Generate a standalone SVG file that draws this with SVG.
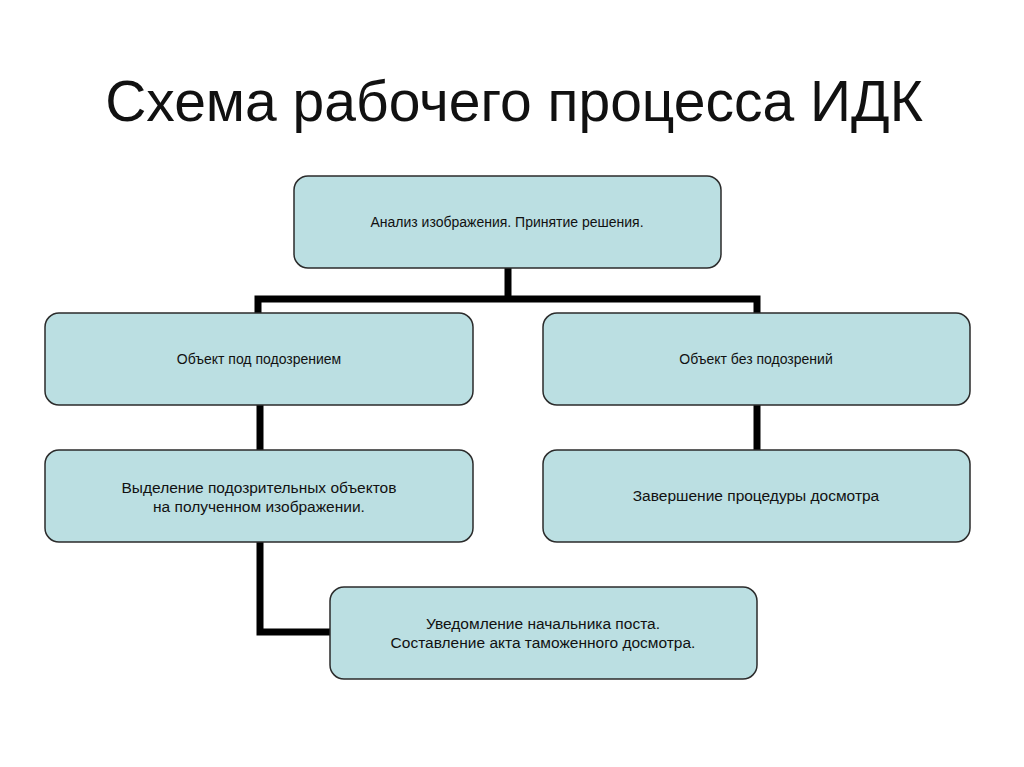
<svg xmlns="http://www.w3.org/2000/svg" width="1024" height="767" viewBox="0 0 1024 767">
<style>
.box{fill:#bbdfe2;stroke:#2b2b2b;stroke-width:1.5}
.t{font-family:"Liberation Sans",Arial,sans-serif;fill:#111;text-anchor:middle}
.s{font-size:14px}
.m{font-size:15.5px}
.c{fill:none;stroke:#000;stroke-width:7;stroke-linecap:butt;stroke-linejoin:miter}
</style>
<rect width="1024" height="767" fill="#fff"/>
<text class="t" x="514" y="121" font-size="57">Схема рабочего процесса ИДК</text>
<g id="connectors">
<path class="c" d="M508,268 V299"/>
<path class="c" d="M258,313 V299 H757 V313"/>
<path class="c" d="M260,405 V450"/>
<path class="c" d="M757,405 V450"/>
<path class="c" d="M260,542 V632 H330"/>
</g>
<g id="n1"><rect class="box" x="294" y="176" width="427" height="92" rx="14"/><text class="t s" x="507" y="227">Анализ изображения. Принятие решения.</text></g>
<g id="n2"><rect class="box" x="45" y="313" width="428" height="92" rx="14"/><text class="t s" x="259" y="364">Объект под подозрением</text></g>
<g id="n3"><rect class="box" x="543" y="313" width="427" height="92" rx="14"/><text class="t s" x="756" y="364">Объект без подозрений</text></g>
<g id="n4"><rect class="box" x="45" y="450" width="428" height="92" rx="14"/><text class="t m" x="259" y="493">Выделение подозрительных объектов</text><text class="t m" x="259" y="512">на полученном изображении.</text></g>
<g id="n5"><rect class="box" x="543" y="450" width="427" height="92" rx="14"/><text class="t m" x="756" y="501">Завершение процедуры досмотра</text></g>
<g id="n6"><rect class="box" x="330" y="587" width="427" height="92" rx="14"/><text class="t m" x="543" y="629">Уведомление начальника поста.</text><text class="t m" x="543" y="648">Составление акта таможенного досмотра.</text></g>
</svg>
